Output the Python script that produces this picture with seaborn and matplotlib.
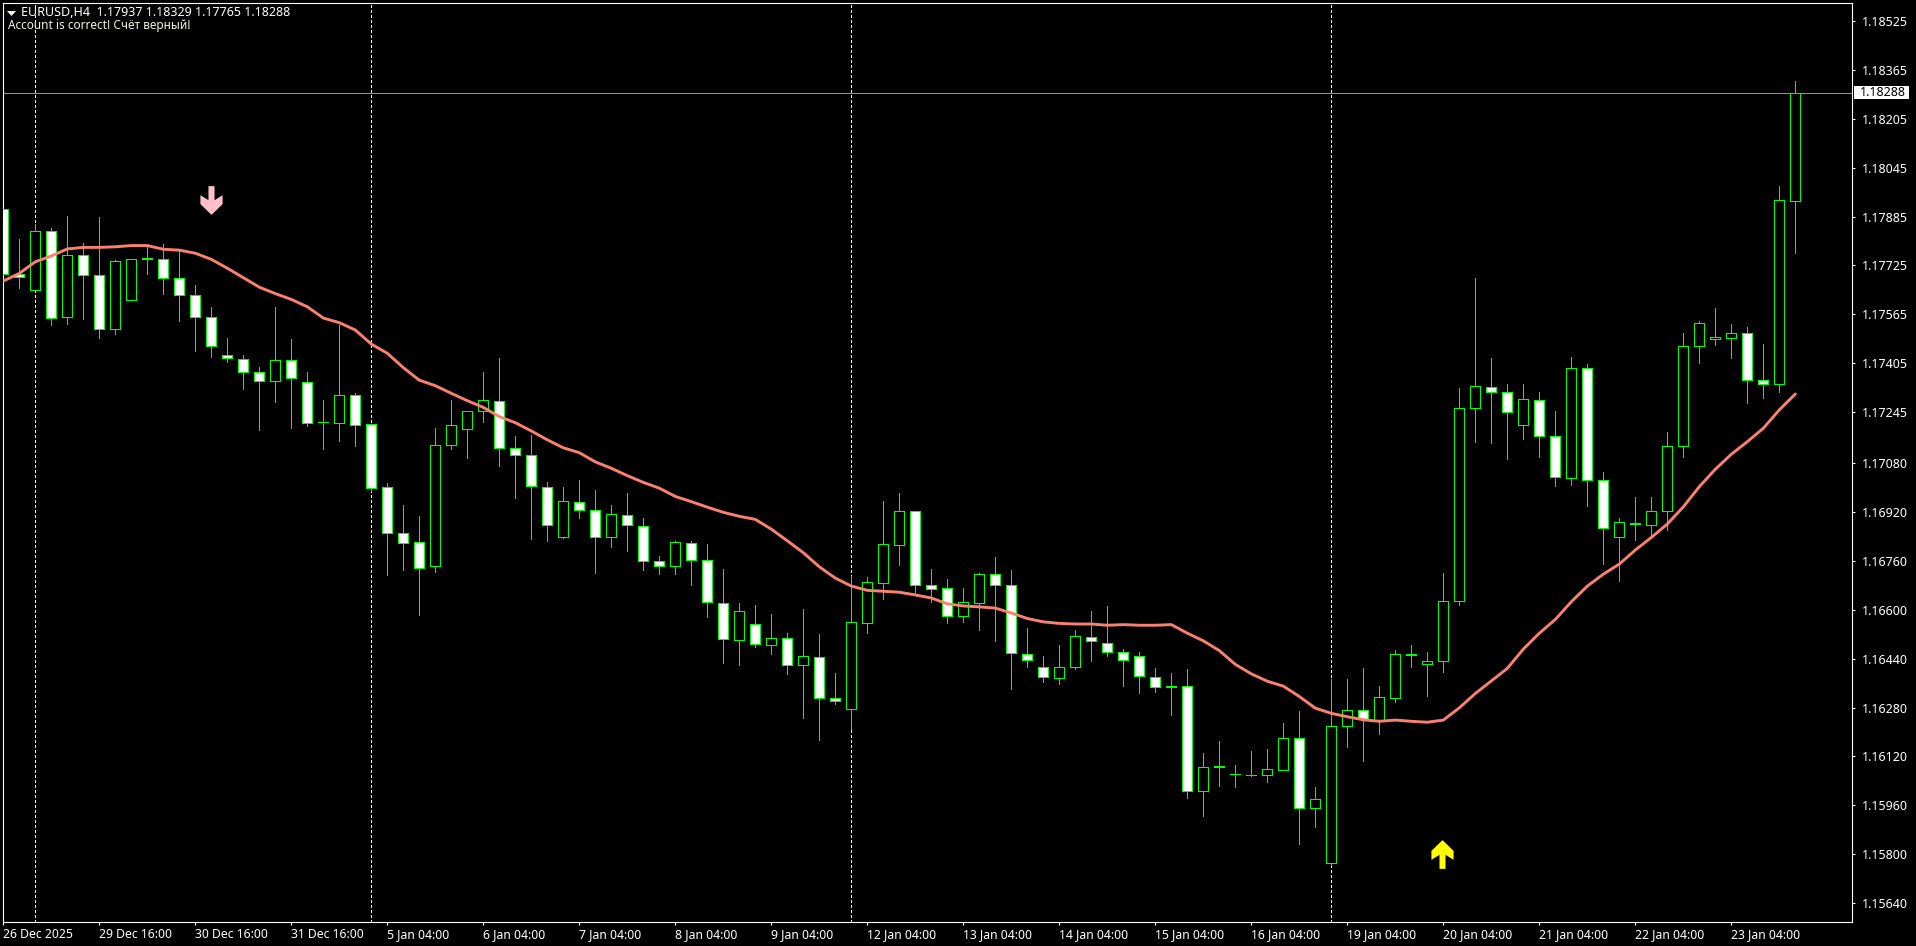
import matplotlib
matplotlib.use("Agg")
from matplotlib import pyplot as plt
from matplotlib.patches import Rectangle
import seaborn as sns

# H4 candles, bar by bar
opens = [
    1.17909, 1.17696, 1.17644, 1.17837, 1.17556, 1.17758, 1.17693, 1.17516, 1.17611, 1.17746,
    1.17745, 1.17683, 1.17627, 1.17556, 1.17431, 1.17418, 1.17376, 1.17346, 1.17415, 1.17343,
    1.17212, 1.17209, 1.17301, 1.17207, 1.17000, 1.16850, 1.16820, 1.16742, 1.17137, 1.17189,
    1.17248, 1.17281, 1.17127, 1.17104, 1.17000, 1.16838, 1.16951, 1.16925, 1.16836, 1.16908,
    1.16872, 1.16758, 1.16742, 1.16817, 1.16761, 1.16621, 1.16500, 1.16552, 1.16483, 1.16506,
    1.16418, 1.16444, 1.16310, 1.16274, 1.16555, 1.16686, 1.16810, 1.16921, 1.16680, 1.16670,
    1.16578, 1.16621, 1.16715, 1.16680, 1.16454, 1.16414, 1.16377, 1.16411, 1.16512, 1.16492,
    1.16461, 1.16450, 1.16381, 1.16347, 1.16352, 1.16007, 1.16085, 1.16062, 1.16060, 1.16061,
    1.16077, 1.16179, 1.15951, 1.15773, 1.16219, 1.16272, 1.16236, 1.16310, 1.16452, 1.16421,
    1.16431, 1.16627, 1.17258, 1.17327, 1.17310, 1.17203, 1.17284, 1.17167, 1.17029, 1.17389,
    1.17023, 1.16836, 1.16880, 1.16876, 1.16921, 1.17134, 1.17461, 1.17484, 1.17487, 1.17503,
    1.17350, 1.17336, 1.17937,
]
closes = [
    1.17697, 1.17686, 1.17837, 1.17552, 1.17758, 1.17693, 1.17516, 1.17739, 1.17745, 1.17749,
    1.17683, 1.17627, 1.17556, 1.17461, 1.17422, 1.17376, 1.17346, 1.17415, 1.17356, 1.17209,
    1.17213, 1.17301, 1.17203, 1.16999, 1.16850, 1.16817, 1.16737, 1.17137, 1.17203, 1.17248,
    1.17284, 1.17127, 1.17104, 1.17003, 1.16876, 1.16954, 1.16925, 1.16836, 1.16912, 1.16876,
    1.16758, 1.16742, 1.16820, 1.16761, 1.16624, 1.16503, 1.16595, 1.16487, 1.16506, 1.16418,
    1.16447, 1.16310, 1.16300, 1.16559, 1.16689, 1.16814, 1.16921, 1.16680, 1.16666, 1.16578,
    1.16624, 1.16715, 1.16680, 1.16458, 1.16434, 1.16380, 1.16414, 1.16513, 1.16497, 1.16461,
    1.16434, 1.16382, 1.16347, 1.16352, 1.16007, 1.16085, 1.16088, 1.16064, 1.16061, 1.16078,
    1.16179, 1.15951, 1.15980, 1.16219, 1.16272, 1.16242, 1.16314, 1.16455, 1.16455, 1.16431,
    1.16627, 1.17258, 1.17330, 1.17310, 1.17245, 1.17287, 1.17167, 1.17033, 1.17389, 1.17023,
    1.16866, 1.16886, 1.16882, 1.16921, 1.17134, 1.17461, 1.17536, 1.17490, 1.17503, 1.17350,
    1.17336, 1.17938, 1.18288,
]
highs = [
    1.17939, 1.17811, 1.17860, 1.17846, 1.17887, 1.17797, 1.17883, 1.17742, 1.17745, 1.17789,
    1.17795, 1.17775, 1.17661, 1.17589, 1.17488, 1.17432, 1.17392, 1.17589, 1.17484, 1.17376,
    1.17285, 1.17530, 1.17307, 1.17207, 1.17014, 1.16942, 1.16906, 1.17194, 1.17285, 1.17248,
    1.17377, 1.17422, 1.17168, 1.17171, 1.17017, 1.17001, 1.17024, 1.16991, 1.16942, 1.16981,
    1.16900, 1.16775, 1.16824, 1.16824, 1.16815, 1.16733, 1.16622, 1.16615, 1.16586, 1.16524,
    1.16602, 1.16520, 1.16393, 1.16710, 1.16707, 1.16955, 1.16981, 1.16921, 1.16733, 1.16700,
    1.16671, 1.16720, 1.16772, 1.16730, 1.16539, 1.16449, 1.16484, 1.16533, 1.16596, 1.16612,
    1.16472, 1.16461, 1.16409, 1.16392, 1.16406, 1.16132, 1.16172, 1.16093, 1.16139, 1.16145,
    1.16229, 1.16269, 1.16021, 1.16374, 1.16374, 1.16409, 1.16350, 1.16468, 1.16484, 1.16461,
    1.16720, 1.17323, 1.17683, 1.17422, 1.17336, 1.17336, 1.17310, 1.17248, 1.17426, 1.17403,
    1.17049, 1.16899, 1.16967, 1.16967, 1.17180, 1.17503, 1.17542, 1.17585, 1.17533, 1.17523,
    1.17467, 1.17984, 1.18329,
]
lows = [
    1.17610, 1.17652, 1.17644, 1.17531, 1.17535, 1.17550, 1.17489, 1.17502, 1.17611, 1.17697,
    1.17633, 1.17543, 1.17446, 1.17427, 1.17410, 1.17322, 1.17188, 1.17280, 1.17195, 1.17201,
    1.17126, 1.17152, 1.17136, 1.16989, 1.16714, 1.16730, 1.16582, 1.16723, 1.17126, 1.17097,
    1.17214, 1.17070, 1.16966, 1.16831, 1.16824, 1.16834, 1.16900, 1.16720, 1.16805, 1.16792,
    1.16730, 1.16717, 1.16717, 1.16681, 1.16576, 1.16426, 1.16419, 1.16478, 1.16455, 1.16390,
    1.16247, 1.16175, 1.16293, 1.16209, 1.16524, 1.16635, 1.16746, 1.16654, 1.16625, 1.16556,
    1.16561, 1.16532, 1.16496, 1.16339, 1.16411, 1.16362, 1.16356, 1.16405, 1.16433, 1.16447,
    1.16349, 1.16326, 1.16332, 1.16255, 1.15983, 1.15924, 1.16023, 1.16019, 1.16055, 1.16037,
    1.16077, 1.15835, 1.15888, 1.15766, 1.16151, 1.16105, 1.16194, 1.16297, 1.16411, 1.16318,
    1.16397, 1.16616, 1.17149, 1.17146, 1.17093, 1.17159, 1.17100, 1.17005, 1.17008, 1.16940,
    1.16750, 1.16694, 1.16829, 1.16838, 1.16861, 1.17100, 1.17407, 1.17465, 1.17424, 1.17276,
    1.17293, 1.17312, 1.17765,
]
# moving average line
ma = [
    1.17674, 1.17699, 1.17737, 1.17756, 1.17779, 1.17784, 1.17784, 1.17786, 1.17790, 1.17790,
    1.17778, 1.17775, 1.17765, 1.17745, 1.17716, 1.17685, 1.17654, 1.17633, 1.17614, 1.17590,
    1.17553, 1.17538, 1.17514, 1.17468, 1.17438, 1.17391, 1.17350, 1.17332, 1.17307, 1.17283,
    1.17261, 1.17231, 1.17211, 1.17184, 1.17155, 1.17129, 1.17113, 1.17083, 1.17062, 1.17038,
    1.17016, 1.16997, 1.16970, 1.16953, 1.16935, 1.16918, 1.16905, 1.16895, 1.16863, 1.16825,
    1.16786, 1.16740, 1.16703, 1.16677, 1.16663, 1.16660, 1.16657, 1.16648, 1.16638, 1.16619,
    1.16612, 1.16609, 1.16605, 1.16589, 1.16571, 1.16560, 1.16555, 1.16553, 1.16553, 1.16549,
    1.16551, 1.16549, 1.16549, 1.16551, 1.16523, 1.16498, 1.16466, 1.16421, 1.16390, 1.16366,
    1.16350, 1.16316, 1.16278, 1.16261, 1.16250, 1.16240, 1.16235, 1.16239, 1.16235, 1.16232,
    1.16239, 1.16279, 1.16326, 1.16367, 1.16408, 1.16471, 1.16523, 1.16568, 1.16626, 1.16677,
    1.16716, 1.16749, 1.16795, 1.16836, 1.16880, 1.16936, 1.17002, 1.17059, 1.17108, 1.17149,
    1.17193, 1.17253, 1.17305,
]

price_ticks = [1.18525, 1.18365, 1.18205, 1.18045, 1.17885, 1.17725, 1.17565, 1.17405, 1.17245, 1.17080,
               1.16920, 1.16760, 1.16600, 1.16440, 1.16280, 1.16120, 1.15960, 1.15800, 1.15640]
time_ticks = [0, 6, 12, 18, 24, 30, 36, 42, 48, 54, 60, 66, 72, 78, 84, 90, 96, 102, 108]
time_labels = ["26 Dec 2025", "29 Dec 16:00", "30 Dec 16:00", "31 Dec 16:00", "5 Jan 04:00", "6 Jan 04:00",
               "7 Jan 04:00", "8 Jan 04:00", "9 Jan 04:00", "12 Jan 04:00", "13 Jan 04:00", "14 Jan 04:00",
               "15 Jan 04:00", "16 Jan 04:00", "19 Jan 04:00", "20 Jan 04:00", "21 Jan 04:00", "22 Jan 04:00",
               "23 Jan 04:00"]
separators = [2, 23, 53, 83]
sell_bar, sell_price = 13, 1.17938
buy_bar, buy_price = 90, 1.15800

W, H = 1916, 946
LIME = "#00ff00"
FONT = ["Noto Sans", "DejaVu Sans"]

sns.set_theme(style="dark", rc={"axes.facecolor": "black", "figure.facecolor": "black"})
plt.rcParams["font.family"] = FONT

fig = plt.figure(figsize=(W / 100, H / 100), dpi=100)
ax = fig.add_axes([2.5 / W, 1 - 922 / H, (1852 - 2.5) / W, (922 - 2.5) / H])

bars = list(range(len(opens)))

for b in separators:
    ax.axvline(b, color="white", lw=0.72, ls=(0, (2.6, 2.4)), antialiased=False, zorder=1)
ax.axhline(closes[-1], color="#8a96a3", lw=0.72, antialiased=False, zorder=1)

ax.vlines(bars, lows, highs, color=LIME, lw=0.72, antialiased=False, zorder=2)
body_low = [min(o, c) for o, c in zip(opens, closes)]
body_h = [abs(c - o) for o, c in zip(opens, closes)]
body_col = ["black" if c >= o else "white" for o, c in zip(opens, closes)]
ax.bar(bars, body_h, bottom=body_low, width=0.625, color=body_col, edgecolor=LIME, linewidth=0.72,
       antialiased=False, zorder=3)

sns.lineplot(x=bars, y=ma, color="#fa8072", lw=2.1, errorbar=None, ax=ax, zorder=4)

# the two signal arrows
down = [(-.21, 1), (.21, 1), (.21, .02), (.77, .37), (.77, -.25), (0, -1), (-.77, -.25), (-.77, .37), (-.21, .02)]
up = [(x, -y) for x, y in down]
sns.scatterplot(x=[sell_bar], y=[sell_price], marker=down, s=430, color="#ffc0cb", linewidth=0, ax=ax, zorder=5)
sns.scatterplot(x=[buy_bar - 0.08], y=[buy_price], marker=up, s=430, color="#ffff00", linewidth=0, ax=ax, zorder=5)

ax.set_xlim(-0.05, 115.54)
ax.set_ylim(1.15579, 1.185845)
ax.grid(False)
for s in ax.spines.values():
    s.set_color("white")
    s.set_linewidth(0.8)

ax.yaxis.tick_right()
ax.set_yticks(price_ticks)
ax.set_yticklabels(["%.5f" % p for p in price_ticks])
ax.set_xticks(time_ticks)
ax.set_xticklabels(time_labels, ha="left")
ax.tick_params(axis="both", colors="white", length=2.5, width=0.8, bottom=True, right=True)
ax.tick_params(axis="y", labelsize=9, pad=4.5)
ax.tick_params(axis="x", labelsize=8.8, pad=2)

# current price tag on the scale
fig.add_artist(Rectangle((1854 / W, 1 - 99.5 / H), 55 / W, 13.5 / H, transform=fig.transFigure,
                         facecolor="white", edgecolor="none"))
fig.text(1860 / W, 1 - 93 / H, "%.5f" % closes[-1], color="black", fontsize=9, va="center", ha="left")

# header
tri = [(-1, .55), (1, .55), (0, -.55)]
ax.scatter([(10.5 - 2.5) / (1852 - 2.5)], [1 - (12.5 - 2.5) / (922 - 2.5)], marker=tri, s=42,
           color="white", linewidth=0, transform=ax.transAxes, zorder=6)
fig.text(21 / W, 1 - 12.5 / H, "EURUSD,H4  1.17937 1.18329 1.17765 1.18288", color="white", fontsize=9, va="center")
fig.text(7.5 / W, 1 - 26 / H, "Account is correct! Счёт верный!", color="#f5f5dc", fontsize=8.5, va="center")

fig.savefig("out.png", dpi=100, facecolor="black")
